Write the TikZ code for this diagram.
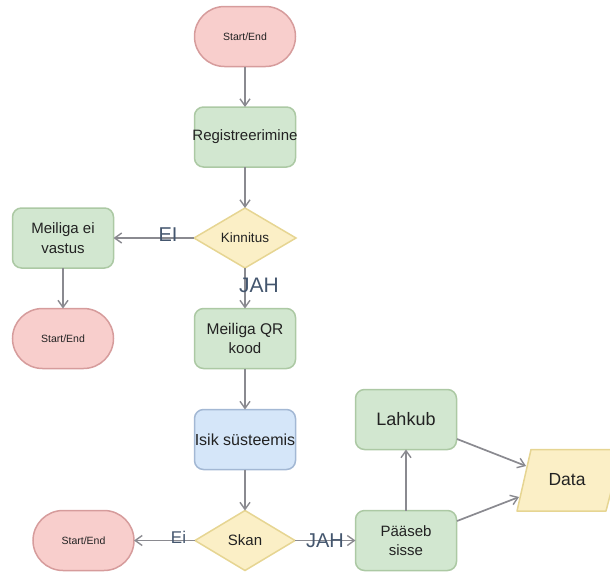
\documentclass[tikz,border=0pt]{standalone}
\usepackage{fontspec}
\setmainfont{Liberation Sans}
\usetikzlibrary{arrows.meta,shapes.geometric}
\definecolor{pinkf}{HTML}{F8CECC}\definecolor{pinkd}{HTML}{D69C9C}
\definecolor{greenf}{HTML}{D2E7D0}\definecolor{greend}{HTML}{ACC9A4}
\definecolor{bluef}{HTML}{D5E6F9}\definecolor{blued}{HTML}{A3B8D4}
\definecolor{yelf}{HTML}{FBEFC6}\definecolor{yeld}{HTML}{E6D592}
\definecolor{edgec}{HTML}{8A8A90}\definecolor{labc}{HTML}{44566E}\definecolor{txt}{HTML}{222222}
\newcommand{\fs}[1]{\fontsize{#1}{19.5}\selectfont}
\tikzset{
 x=1pt,y=-1pt,
 base/.style={line width=1.5pt,minimum width=101pt,minimum height=60pt,inner sep=0pt,outer sep=0pt,align=center,text=txt,font=\fs{15}},
 termbox/.style={base,draw=pinkd,fill=pinkf,rounded corners=30pt,font=\fs{10.5}},
 procbox/.style={base,draw=greend,fill=greenf,rounded corners=9pt},
 bluebox/.style={base,draw=blued,fill=bluef,rounded corners=9pt},
 decbox/.style={base,draw=yeld,fill=yelf,diamond,aspect=1.68,font=\fs{13.5}},
 dataline/.style={draw=yeld,fill=yelf,line width=1.5pt,line join=round},
 flow/.style={draw=edgec,line width=1.7pt,-{Straight Barb[length=7pt,width=10pt,line width=1.4pt]}},
 lab/.style={text=labc,inner sep=0pt},
}
\begin{document}
\begin{tikzpicture}
\useasboundingbox (0,0) rectangle (610,571);
\node[termbox] (s1) at (245,36.5) {Start/End};
\node[procbox] (reg) at (245,137) {\makebox[0pt]{\raisebox{-1.5pt}{\fs{15}Registreerimine}}};
\node[decbox,minimum width=102pt,minimum height=60pt] (kin) at (245,238) {Kinnitus};
\node[procbox] (ei) at (63,238) {Meiliga ei\\vastus};
\node[termbox] (s2) at (63,338.5) {Start/End};
\node[procbox] (qr) at (245,338.5) {\fs{15.5}Meiliga QR\\kood};
\node[bluebox] (isik) at (245,439.5) {\makebox[0pt]{\fs{16}Isik süsteemis}};
\node[decbox,minimum width=100pt,minimum height=60pt,font=\fs{15}] (skan) at (245,540.5) {Skan};
\node[termbox] (s3) at (83.5,540.5) {Start/End};
\node[procbox] (paa) at (406,540.5) {Pääseb\\sisse};
\node[procbox,font=\fs{18}] (lah) at (406,419.5) {Lahkub};
\draw[dataline] (531,449.5) -- (622,449.5) -- (606,511) -- (517,511) -- cycle;
\node[inner sep=0pt,text=txt,font=\fs{17.5}] (data) at (567,480) {Data};
\coordinate (dtop) at (526,466);
\coordinate (dbot) at (519,497);
\coordinate (lahout) at (457,439);
\coordinate (paaout) at (457,521);
\draw[flow] (s1) -- (reg);
\draw[flow] (reg) -- (kin);
\draw[flow] (kin) -- (ei);
\draw[flow] (ei) -- (s2);
\draw[flow] (kin) -- (qr);
\draw[flow] (qr) -- (isik);
\draw[flow] (isik) -- (skan);
\draw[flow] (skan) -- (s3);
\draw[flow] (skan) -- (paa);
\draw[flow] (paa) -- (lah);
\draw[flow] (lahout) -- (dtop);
\draw[flow] (paaout) -- (dbot);
\node[lab,font=\fs{20}] (lei) at (168,234.5) {EI};
\node[lab,font=\fs{21}] (ljah) at (259,285) {JAH};
\node[lab,font=\fs{17}] (lei2) at (178.5,537) {Ei};
\node[lab,font=\fs{20}] (ljah2) at (325,541) {JAH};
\end{tikzpicture}
\end{document}
